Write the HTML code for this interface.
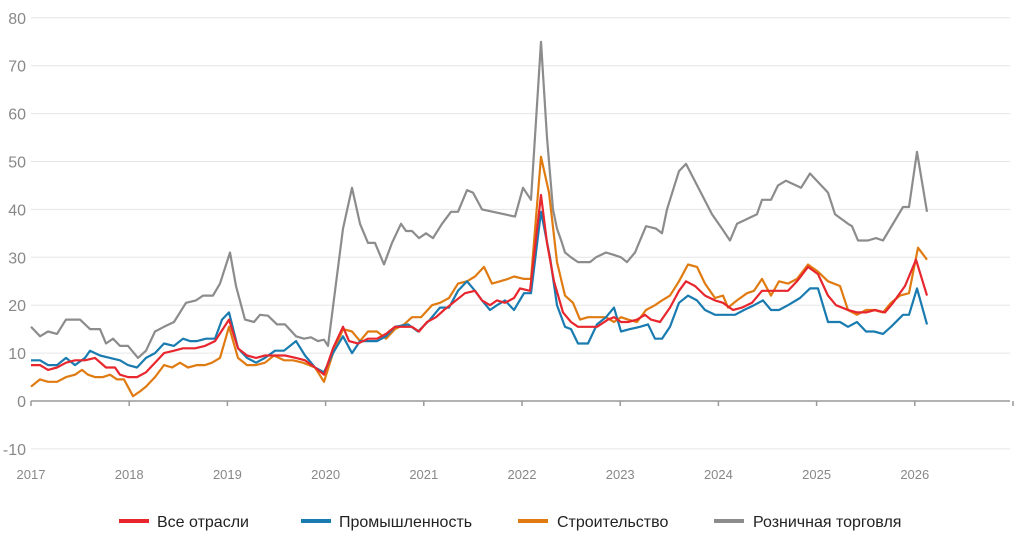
<!DOCTYPE html>
<html><head><meta charset="utf-8"><style>
body{margin:0;background:#fff;}
svg{display:block;font-family:"Liberation Sans",sans-serif;}
</style></head><body>
<svg id="s" width="1024" height="538" xmlns="http://www.w3.org/2000/svg">
<g id="grid"></g>
<g id="lines"></g>
<g font-size="16" fill="#222">
<line x1="119" y1="521" x2="149" y2="521" stroke="#e8262e" stroke-width="4"/>
<text x="157" y="527">Все отрасли</text>
<line x1="301" y1="521" x2="331" y2="521" stroke="#1a7bb0" stroke-width="4"/>
<text x="339" y="527">Промышленность</text>
<line x1="518" y1="521" x2="548" y2="521" stroke="#e07b12" stroke-width="4"/>
<text x="557" y="527">Строительство</text>
<line x1="714" y1="521" x2="744" y2="521" stroke="#8c8c8c" stroke-width="4"/>
<text x="753" y="527">Розничная торговля</text>
</g>
</svg>
<script>
var Y=v=>401-v*4.79;
var g='';
for(var v=-10;v<=80;v+=10){var y=Y(v);
 if(v!==0)g+='<line x1="31" x2="1010" y1="'+y+'" y2="'+y+'" stroke="#e6e6e6" stroke-width="1"/>';
 g+='<text x="26" y="'+(y+6)+'" text-anchor="end" font-size="16" fill="#888">'+v+'</text>';}
g+='<line x1="31" x2="1010" y1="401" y2="401" stroke="#999" stroke-width="1.5"/>';
for(var i=0;i<=10;i++){var x=31+i*98.2;
 g+='<line x1="'+x+'" x2="'+x+'" y1="401" y2="406" stroke="#999" stroke-width="1.5"/>';
 if(i<10)g+='<text x="'+x+'" y="479" text-anchor="middle" font-size="13" fill="#888">'+(2017+i)+'</text>';}
document.getElementById('grid').innerHTML=g;
var S={
gray:[31,15.5,40,13.5,48,14.5,57,14,66,17,80,17,90,15,100,15,106,12,113,13,120,11.5,128,11.5,138,9,146,10.5,155,14.5,164,15.5,174,16.5,186,20.5,196,21,203,22,213,22,220,24.5,230,31,236,24,245,17,254,16.5,260,18,268,17.8,277,16,285,16,296,13.5,304,13,311,13.3,318,12.5,324,12.8,328,11.5,343,36,352,44.5,360,37,368,33,375,33,384,28.5,392,33,401,37,406,35.5,412,35.5,419,34,426,35,433,34,442,37,451,39.5,458,39.5,467,44,473,43.5,482,40,515,38.5,523,44.5,531,42,541,75,547,55,553,40,557,36,562,33,565,31,571,30,578,29,584,29,590,29,596,30,606,31,614,30.5,621,30,627,29,635,31,646,36.5,656,36,662,35,667,40,673,44,679,48,686,49.5,712,39,722,36,730,33.5,737,37,747,38,757,39,762,42,771,42,778,45,786,46,801,44.5,810,47.5,828,43.5,835,39,848,37,852,36.5,858,33.5,868,33.5,876,34,883,33.5,903,40.5,909,40.5,917,52,927,39.5],
orange:[31,3,40,4.5,48,4,57,4,66,5,75,5.5,82,6.5,88,5.5,95,5,103,5,110,5.5,117,4.5,124,4.5,133,1,140,2,146,3,155,5,164,7.5,172,7,180,8,188,7,197,7.5,205,7.5,212,8,220,9,229,15.5,238,9,247,7.5,256,7.5,265,8,274,9.5,284,8.5,293,8.5,303,8,315,7,324,4,333,10,343,15,352,14.5,360,12.5,368,14.5,377,14.5,386,13,395,15,404,16,412,17.5,421,17.5,432,20,440,20.5,449,21.5,458,24.5,467,25,475,26,484,28,492,24.5,500,25,508,25.5,514,26,524,25.5,531,25.5,541,51,549,43.5,557,29,565,22,573,20.5,580,17,588,17.5,597,17.5,606,17.5,614,16.5,621,17.5,628,17,637,16.5,646,19,655,20,662,21,670,22,679,25,688,28.5,697,28,705,24.5,715,21.5,723,22,728,19.5,737,21,747,22.5,754,23,762,25.5,771,22,779,25,788,24.5,797,25.5,808,28.5,818,27,828,25,840,24,848,19,857,18,866,19,874,19,883,18.5,891,20.5,900,22,909,22.5,918,32,927,29.5],
blue:[31,8.5,40,8.5,48,7.5,57,7.5,66,9,75,7.5,85,9,90,10.5,100,9.5,110,9,120,8.5,128,7.5,137,7,146,9,155,10,164,12,174,11.5,183,13,190,12.5,197,12.5,206,13,215,13,222,17,229,18.5,238,11,247,9,256,8,265,9,275,10.5,284,10.5,296,12.5,305,9.5,315,7,324,6,333,10,343,13.5,352,10,360,12.5,370,12.5,377,12.5,386,13.5,395,15.5,408,16,418,14.5,430,17,440,19.5,449,19.5,458,23,467,25,475,23,482,21,490,19,497,20,505,21,514,19,524,22.5,531,22.5,541,39.5,550,30,557,20,565,15.5,571,15,578,12,588,12,597,16,606,17.5,614,19.5,621,14.5,630,15,640,15.5,648,16,655,13,662,13,670,15.5,679,20.5,688,22,697,21,705,19,715,18,725,18,735,18,744,19,754,20,763,21,771,19,779,19,788,20,800,21.5,810,23.5,818,23.5,828,16.5,840,16.5,848,15.5,857,16.5,866,14.5,874,14.5,883,14,891,15.5,903,18,909,18,917,23.5,927,16],
red:[31,7.5,40,7.5,48,6.5,57,7,66,8,75,8.5,85,8.5,95,9,106,7,115,7,120,5.5,128,5,137,5,146,6,155,8,164,10,174,10.5,183,11,195,11,205,11.5,215,12.5,229,17,238,11,247,9.5,256,9,265,9.5,275,9.5,285,9.5,296,9,305,8.5,315,7,324,5.5,333,11,343,15.5,349,12.5,358,12,368,13,377,13,386,14,395,15.5,404,15.5,412,15.5,419,14.5,427,16.5,436,17.5,444,19,453,20.5,465,22.5,475,23,482,21,490,20,497,21,505,20.5,514,21.5,520,23.5,530,23,541,43,547,33,554,25,563,18.5,571,16.5,578,15.5,588,15.5,597,15.5,608,17,614,17.5,621,16.5,628,16.5,637,17,645,18,651,17,660,16.5,670,19.5,679,23,686,25,695,24,705,22,715,21,723,20.5,733,19,742,19.5,752,20.5,762,23,771,23,779,23,788,23,797,25,808,28,818,26.5,828,22,836,20,848,19,857,18.5,866,18.5,875,19,885,18.5,893,20.5,905,24,916,29.5,927,22]};
var C={gray:'#8c8c8c',orange:'#e07b12',blue:'#1a7bb0',red:'#e8262e'};
var h='';
for(var k in S){var a=S[k],p=[];for(var i=0;i<a.length;i+=2)p.push(a[i]+','+Y(a[i+1]).toFixed(1));
h+='<polyline fill="none" stroke="'+C[k]+'" stroke-width="2.2" stroke-linejoin="round" points="'+p.join(' ')+'"/>';}
document.getElementById('lines').innerHTML=h;
</script>
</body></html>
